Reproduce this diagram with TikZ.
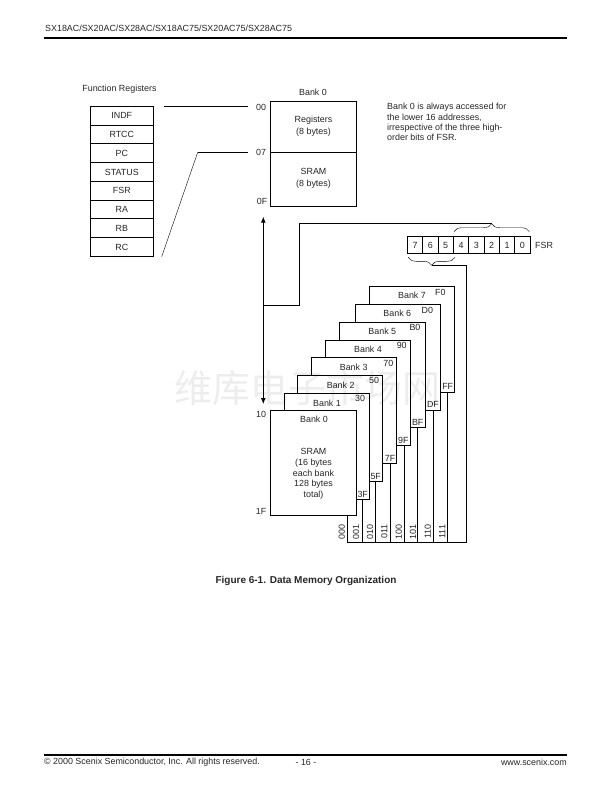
\documentclass[tikz,border=0pt]{standalone}
\usepackage{fontspec}
\setmainfont{Liberation Sans}
\newfontfamily\cjkwm{Noto Sans CJK SC}
\usepackage{xcolor}
\usetikzlibrary{arrows.meta, positioning, calc, decorations.pathreplacing}

\begin{document}
\begin{tikzpicture}[
    x=1pt, y=-1pt,
    node distance=0pt,
    lbl/.style={font=\fontsize{8.9}{10.8}\selectfont, inner sep=0pt, text=black!85, align=center},
    note/.style={lbl, align=left, anchor=north west},
    bitno/.style={lbl, rotate=90},
    regcell/.style={rectangle, draw, line width=0.8pt, minimum width=63pt,
      minimum height=18.75pt, inner sep=0pt, outer sep=0pt,
      font=\fontsize{8.9}{10.8}\selectfont, text=black!85},
    bitcell/.style={rectangle, draw, line width=0.8pt, minimum width=15.33pt,
      minimum height=17pt, inner sep=0pt, outer sep=0pt,
      font=\fontsize{8.9}{10.8}\selectfont, text=black!85},
    bankbox/.style={rectangle, draw, fill=white, line width=0.9pt, anchor=north west,
      minimum width=85.5pt, inner sep=0pt, outer sep=0pt},
    wire/.style={line width=0.9pt},
    thinwire/.style={line width=0.4pt},
    arrow/.style={{Latex[length=6pt,width=5pt]}-{Latex[length=6pt,width=5pt]}, line width=0.9pt},
    bracket/.style={line width=0.4pt, decorate,
      decoration={brace, amplitude=8pt}},
    pagerule/.style={line width=2pt},
]
\useasboundingbox (0,0) rectangle (612,792);

% ── Page header and footer ──
\node[lbl, anchor=west] (header) at (45,28) {SX18AC/SX20AC/SX28AC/SX18AC75/SX20AC75/SX28AC75};
\coordinate (ruleAl) at (44,37.7);
\coordinate (ruleAr) at (567,37.7);
\draw[pagerule] (ruleAl) -- (ruleAr);
\coordinate (ruleBl) at (44,755);
\coordinate (ruleBr) at (567,755);
\draw[pagerule] (ruleBl) -- (ruleBr);
\node[lbl, anchor=west] (copyright) at (44,762.5) {© 2000 Scenix Semiconductor, Inc. All rights reserved.};
\node[lbl] (pageno) at (306,762.5) {- 16 -};
\node[lbl, anchor=east] (website) at (567,762.5) {www.scenix.com};

% ── Function registers ──
\node[lbl] (regtitle) at (119.5,89) {Function Registers};
\node[regcell] (indf) at (121.8,115.7) {INDF};
\node[regcell, below=of indf] (rtcc) {RTCC};
\node[regcell, below=of rtcc] (pc) {PC};
\node[regcell, below=of pc] (status) {STATUS};
\node[regcell, below=of status] (fsr) {FSR};
\node[regcell, below=of fsr] (ra) {RA};
\node[regcell, below=of ra] (rb) {RB};
\node[regcell, below=of rb] (rc) {RC};

% ── Upper bank 0 ──
\node[lbl] (banktop) at (313,92.7) {Bank 0};
\node[bankbox, minimum width=86.4pt, minimum height=51.3pt] (regs) at (270.3,101) {};
\node[bankbox, minimum width=86.4pt, minimum height=54pt] (sram) at (270.3,152.3) {};
\node[lbl] (regstext) at (313.5,126) {Registers\\[1.2pt](8 bytes)};
\node[lbl] (sram8text) at (313.5,178.8) {SRAM\\[1.2pt](8 bytes)};
\node[lbl] (addr00) at (261,107) {00};
\node[lbl] (addr07) at (261,152) {07};
\node[lbl] (addr0F) at (262,201.7) {0F};
\node[note, font=\fontsize{8.9}{10.4}\selectfont] (banknote) at (387,103) {Bank 0 is always accessed for\\the lower 16 addresses,\\irrespective of the three high-\\order bits of FSR.};

% ── Lines from registers to bank ──
\coordinate (indfend) at (164,106.7);
\coordinate (endA) at (247.7,106.7);
\draw[wire] (indfend) -- (endA);
\coordinate (bendB) at (197.7,152.3);
\coordinate (endB) at (247.7,152.3);
\coordinate (rcend) at (161.7,256.7);
\draw[wire] (endB) -- (bendB);
\draw[thinwire] (bendB) -- (rcend);

% ── FSR bits ──
\node[bitcell] (b7) at (415,245.2) {7};
\node[bitcell, right=of b7] (b6) {6};
\node[bitcell, right=of b6] (b5) {5};
\node[bitcell, right=of b5] (b4) {4};
\node[bitcell, right=of b4] (b3) {3};
\node[bitcell, right=of b3] (b2) {2};
\node[bitcell, right=of b2] (b1) {1};
\node[bitcell, right=of b1] (b0) {0};
\node[lbl, right=5pt of b0] (fsrlabel) {FSR};

% ── Braces ──
\coordinate (braceAl) at (454,231.7);
\coordinate (braceAr) at (529.3,231.7);
\coordinate (braceBl) at (408.3,257.3);
\coordinate (braceBr) at (455,257.3);
\draw[bracket] (braceAl) -- (braceAr);
\draw[bracket] (braceBr) -- (braceBl);

% ── Arrow and select lines ──
\coordinate (arrowtop) at (263.3,216.7);
\coordinate (arrowbot) at (263.3,404);
\coordinate (arrowtap) at (263.3,305.3);
\coordinate (tapbend) at (299.3,305.3);
\coordinate (tapup) at (299.3,223.3);
\coordinate (braceAtip) at (491.7,223.3);
\draw[arrow] (arrowtop) -- (arrowbot);
\draw[wire] (arrowtap) -- (tapbend) -- (tapup) -- (braceAtip);

\coordinate (braceBtip) at (431.7,265.7);
\coordinate (cornerup) at (466.7,265.7);
\coordinate (corner) at (466.7,542.7);
\coordinate (sel0) at (347.3,542.7);
\coordinate (sel1) at (362.3,542.7);
\coordinate (sel2) at (375.7,542.7);
\coordinate (sel3) at (390.7,542.7);
\coordinate (sel4) at (404,542.7);
\coordinate (sel5) at (417.7,542.7);
\coordinate (sel6) at (433.3,542.7);
\coordinate (sel7) at (447,542.7);
\draw[wire] (braceBtip) -- (cornerup) -- (corner) -- (sel0);

% ── Bank stack, back to front ──
\node[bankbox, minimum height=106pt] (bank7) at (369.3,286.7) {};
\node[bankbox, minimum height=106.3pt] (bank6) at (355.3,304) {};
\node[bankbox, minimum width=86.4pt, minimum height=105.3pt] (bank5) at (339.3,322) {};
\node[bankbox, minimum height=105pt] (bank4) at (325.3,340.3) {};
\node[bankbox, minimum height=106pt] (bank3) at (311.3,357.3) {};
\node[bankbox, minimum height=106pt] (bank2) at (297.3,375.3) {};
\node[bankbox, minimum height=105.7pt] (bank1) at (284.3,393.3) {};
\node[bankbox, minimum width=86.4pt, minimum height=105pt] (bank0) at (270.3,410.3) {};

\draw[wire] (sel0 |- bank0.south) -- (sel0);
\draw[wire] (sel1 |- bank1.south) -- (sel1);
\draw[wire] (sel2 |- bank2.south) -- (sel2);
\draw[wire] (sel3 |- bank3.south) -- (sel3);
\draw[wire] (sel4 |- bank4.south) -- (sel4);
\draw[wire] (sel5 |- bank5.south) -- (sel5);
\draw[wire] (sel6 |- bank6.south) -- (sel6);
\draw[wire] (sel7 |- bank7.south) -- (sel7);

% ── Bank labels ──
\node[lbl] (name7) at (412,295.7) {Bank 7};
\node[lbl] (name6) at (397.3,313.7) {Bank 6};
\node[lbl] (name5) at (382.3,331.7) {Bank 5};
\node[lbl] (name4) at (368,349) {Bank 4};
\node[lbl] (name3) at (353.7,367) {Bank 3};
\node[lbl] (name2) at (340.7,385) {Bank 2};
\node[lbl] (name1) at (327,403) {Bank 1};
\node[lbl] (name0) at (314,419) {Bank 0};
\node[lbl] (sramtext) at (313.5,474) {SRAM\\(16 bytes\\each bank\\128 bytes\\total)};

\node[lbl] (addrF0) at (440.3,292.7) {F0};
\node[lbl] (addrD0) at (427.3,310) {D0};
\node[lbl] (addrB0) at (415,327.7) {B0};
\node[lbl] (addr90) at (401.7,345) {90};
\node[lbl] (addr70) at (388.3,363) {70};
\node[lbl] (addr50) at (374,380.7) {50};
\node[lbl] (addr30) at (360,398.7) {30};
\node[lbl] (addr10) at (261,414.3) {10};
\node[lbl] (addr1F) at (261,511) {1F};

\node[lbl] (addrFF) at (447.7,386.7) {FF};
\node[lbl] (addrDF) at (433,404.7) {DF};
\node[lbl] (addrBF) at (417.7,422.7) {BF};
\node[lbl] (addr9F) at (403.3,440.7) {9F};
\node[lbl] (addr7F) at (390,458) {7F};
\node[lbl] (addr5F) at (375.7,476) {5F};
\node[lbl] (addr3F) at (362.7,494) {3F};

% ── Bit patterns ──
\node[bitno] (p0) at (341.7,531.7) {000};
\node[bitno] (p1) at (356,531.7) {001};
\node[bitno] (p2) at (370,531.7) {010};
\node[bitno] (p3) at (384.3,531.7) {011};
\node[bitno] (p4) at (398.7,531.7) {100};
\node[bitno] (p5) at (413,531.7) {101};
\node[bitno] (p6) at (427.7,531.7) {110};
\node[bitno] (p7) at (442.3,531.7) {111};

% ── Caption and watermark ──
\node[lbl, font=\fontsize{10}{12}\selectfont\bfseries] (caption) at (306,580.5) {Figure 6-1. Data Memory Organization};
\node[inner sep=0pt, text=black, text opacity=0.07, font=\fontsize{38}{38}\selectfont\cjkwm] (watermark) at (307,388) {维库电子市场网};

\end{tikzpicture}
\end{document}
